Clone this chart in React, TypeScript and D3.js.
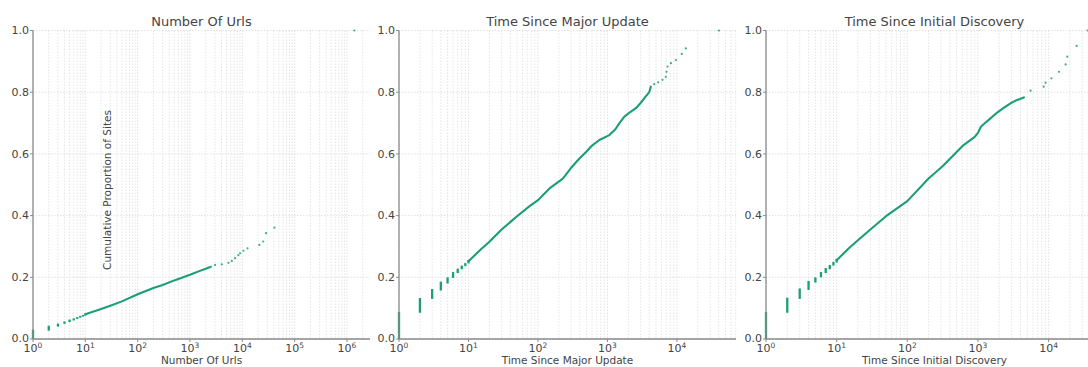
import React from "react";
import * as d3 from "d3";

// ---- data ----
const titles = ["Number Of Urls", "Time Since Major Update", "Time Since Initial Discovery"];
const yTicks = [0, 0.2, 0.4, 0.6, 0.8, 1.0];

// discrete steps at small integers: [x, yLow, yHigh]
const urlsBars: [number, number, number][] = [
  [1, 0, 0.03], [2, 0.027, 0.043], [3, 0.04, 0.05], [4, 0.049, 0.057], [5, 0.055, 0.063],
  [6, 0.06, 0.067], [7, 0.065, 0.071], [8, 0.069, 0.075], [9, 0.073, 0.078], [10, 0.076, 0.082],
];
const urlsCurve: [number, number][] = [
  [10, 0.08], [20, 0.097], [30, 0.108], [50, 0.122], [100, 0.145], [200, 0.165], [300, 0.175],
  [500, 0.19], [1000, 0.208], [1500, 0.22], [2000, 0.228], [2500, 0.234],
];
const urlsDots: [number, number][] = [
  [3020, 0.24], [4055, 0.242], [5420, 0.247], [6300, 0.253], [7280, 0.262], [8420, 0.272],
  [9080, 0.278], [10500, 0.286], [12560, 0.294], [21200, 0.305], [25100, 0.316], [28500, 0.343],
  [41100, 0.361], [1380000, 1.0],
];

const majorBars: [number, number, number][] = [
  [1, 0, 0.088], [2, 0.085, 0.133], [3, 0.13, 0.162], [4, 0.157, 0.186], [5, 0.18, 0.2],
  [6, 0.198, 0.217], [7, 0.214, 0.228], [8, 0.226, 0.238], [9, 0.236, 0.246], [10, 0.245, 0.256],
];
const majorCurve: [number, number][] = [
  [10, 0.252], [15, 0.29], [20, 0.315], [30, 0.355], [50, 0.398], [75, 0.43], [100, 0.45],
  [150, 0.49], [228, 0.52], [300, 0.555], [395, 0.585], [500, 0.608], [600, 0.627], [765, 0.645],
  [1065, 0.661], [1300, 0.68], [1480, 0.699], [1740, 0.72], [2100, 0.735], [2570, 0.748],
  [3000, 0.765], [3380, 0.78], [3990, 0.8], [4215, 0.818],
];
const majorDots: [number, number][] = [
  [4710, 0.826], [5370, 0.832], [6200, 0.84], [6920, 0.85], [7080, 0.866], [7340, 0.883],
  [8190, 0.894], [9660, 0.904], [11750, 0.924], [13400, 0.942], [40300, 1.0],
];

const discBars: [number, number, number][] = [
  [1, 0, 0.088], [2, 0.085, 0.134], [3, 0.13, 0.164], [4, 0.159, 0.188], [5, 0.183, 0.2],
  [6, 0.2, 0.217], [7, 0.214, 0.23], [8, 0.226, 0.24], [9, 0.238, 0.25], [10, 0.248, 0.26],
];
const discCurve: [number, number][] = [
  [10, 0.255], [15, 0.295], [20, 0.32], [30, 0.355], [50, 0.398], [100, 0.447], [200, 0.52],
  [316, 0.56], [600, 0.625], [900, 0.655], [1000, 0.668], [1100, 0.688], [1260, 0.7],
  [1505, 0.715], [1870, 0.734], [2340, 0.75], [2890, 0.764], [3590, 0.775], [4470, 0.783],
];
const discDots: [number, number][] = [
  [5560, 0.805], [8510, 0.818], [9060, 0.831], [10950, 0.845], [14000, 0.866], [17400, 0.89],
  [18400, 0.915], [24900, 0.95], [35700, 1.0],
];

const xMaxExp = [6.44, 4.85, 4.77];
const xTickExps = [[0, 1, 2, 3, 4, 5, 6], [0, 1, 2, 3, 4], [0, 1, 2, 3, 4]];

const panelData = [
  { bars: urlsBars, curve: urlsCurve, dots: urlsDots },
  { bars: majorBars, curve: majorCurve, dots: majorDots },
  { bars: discBars, curve: discCurve, dots: discDots },
];

const W = 1088;
const H = 367;
const lefts = [33, 399, 766];
const pw = 337;
const top = 30.5;
const bottom = 339;
const green = "#1b9e77";
const gridColor = "#dedede";
const spine = "#8a8a8a";
const textColor = "#444";
const font = "'DejaVu Sans', sans-serif";

function Panel({ i }: { i: number }) {
  const x0 = lefts[i];
  const x = d3.scaleLog().domain([1, Math.pow(10, xMaxExp[i])]).range([x0, x0 + pw]);
  const y = d3.scaleLinear().domain([0, 1]).range([bottom, top]);
  const { bars, curve, dots } = panelData[i];

  const minor: number[] = [];
  for (let e = 0; e <= Math.floor(xMaxExp[i]); e++) {
    for (let m = 2; m <= 9; m++) {
      const v = m * Math.pow(10, e);
      if (Math.log10(v) <= xMaxExp[i]) minor.push(v);
    }
  }
  const line = d3.line<[number, number]>().x((d) => x(d[0])).y((d) => y(d[1]));

  return (
    <g>
      {/* grid */}
      {minor.map((v) => (
        <line key={"m" + v} x1={x(v)} x2={x(v)} y1={top} y2={bottom} stroke={gridColor}
          strokeWidth={0.8} strokeDasharray="1.5,1.5" />
      ))}
      {xTickExps[i].map((e) => (
        <line key={"M" + e} x1={x(Math.pow(10, e))} x2={x(Math.pow(10, e))} y1={top} y2={bottom}
          stroke={gridColor} strokeWidth={0.9} strokeDasharray="1.5,1.5" />
      ))}
      {yTicks.map((t) => (
        <line key={"y" + t} x1={x0} x2={x0 + pw} y1={y(t)} y2={y(t)} stroke={gridColor}
          strokeWidth={0.9} strokeDasharray="1.5,1.5" />
      ))}

      {/* data */}
      {bars.map((b) => (
        <line key={"b" + b[0]} x1={x(b[0])} x2={x(b[0])} y1={y(b[1])} y2={y(b[2])}
          stroke={green} strokeWidth={2.3} />
      ))}
      <path d={line(curve) || ""} fill="none" stroke={green} strokeWidth={2.1} strokeLinecap="round"
        strokeLinejoin="round" />
      {dots.map((d) => (
        <circle key={"d" + d[0]} cx={x(d[0])} cy={y(d[1])} r={1.1} fill={green} opacity={0.85} />
      ))}

      {/* spines */}
      <line x1={x0} x2={x0} y1={top} y2={bottom} stroke={spine} strokeWidth={1.3} />
      <line x1={x0} x2={x0 + pw} y1={bottom} y2={bottom} stroke={spine} strokeWidth={1.3} />

      {/* y ticks */}
      {yTicks.map((t) => (
        <g key={"yt" + t}>
          <line x1={x0 - 3} x2={x0} y1={y(t)} y2={y(t)} stroke={spine} strokeWidth={1} />
          <text x={x0 - 4} y={t === 0 ? y(t) - 1 : y(t)} dy="0.35em" textAnchor="end" fontSize={11}
            fill={textColor} fontFamily={font}>{t.toFixed(1)}</text>
        </g>
      ))}
      {/* x ticks */}
      {xTickExps[i].map((e) => (
        <g key={"xt" + e}>
          <line x1={x(Math.pow(10, e))} x2={x(Math.pow(10, e))} y1={bottom} y2={bottom + 3}
            stroke={spine} strokeWidth={1} />
          <text x={x(Math.pow(10, e))} y={bottom + 13} textAnchor="middle" fontSize={11}
            fill={textColor} fontFamily={font}>
            10<tspan fontSize={7.5} dy={-4.5}>{e}</tspan>
          </text>
        </g>
      ))}

      <text x={x0 + pw / 2} y={25.5} textAnchor="middle" fontSize={13} fill={textColor}
        fontFamily={font}>{titles[i]}</text>
      <text x={x0 + pw / 2} y={364} textAnchor="middle" fontSize={10.5} fill={textColor}
        fontFamily={font}>{titles[i]}</text>
    </g>
  );
}

export default function App() {
  return (
    <svg width={W} height={H} style={{ position: "absolute", left: 0, top: 0, background: "#fff" }}>
      <rect width={W} height={H} fill="#fff" />
      {[0, 1, 2].map((i) => (
        <Panel key={i} i={i} />
      ))}
      <text transform="translate(111,190) rotate(-90)" textAnchor="middle" fontSize={10.5}
        fill={textColor} fontFamily={font}>Cumulative Proportion of Sites</text>
    </svg>
  );
}
